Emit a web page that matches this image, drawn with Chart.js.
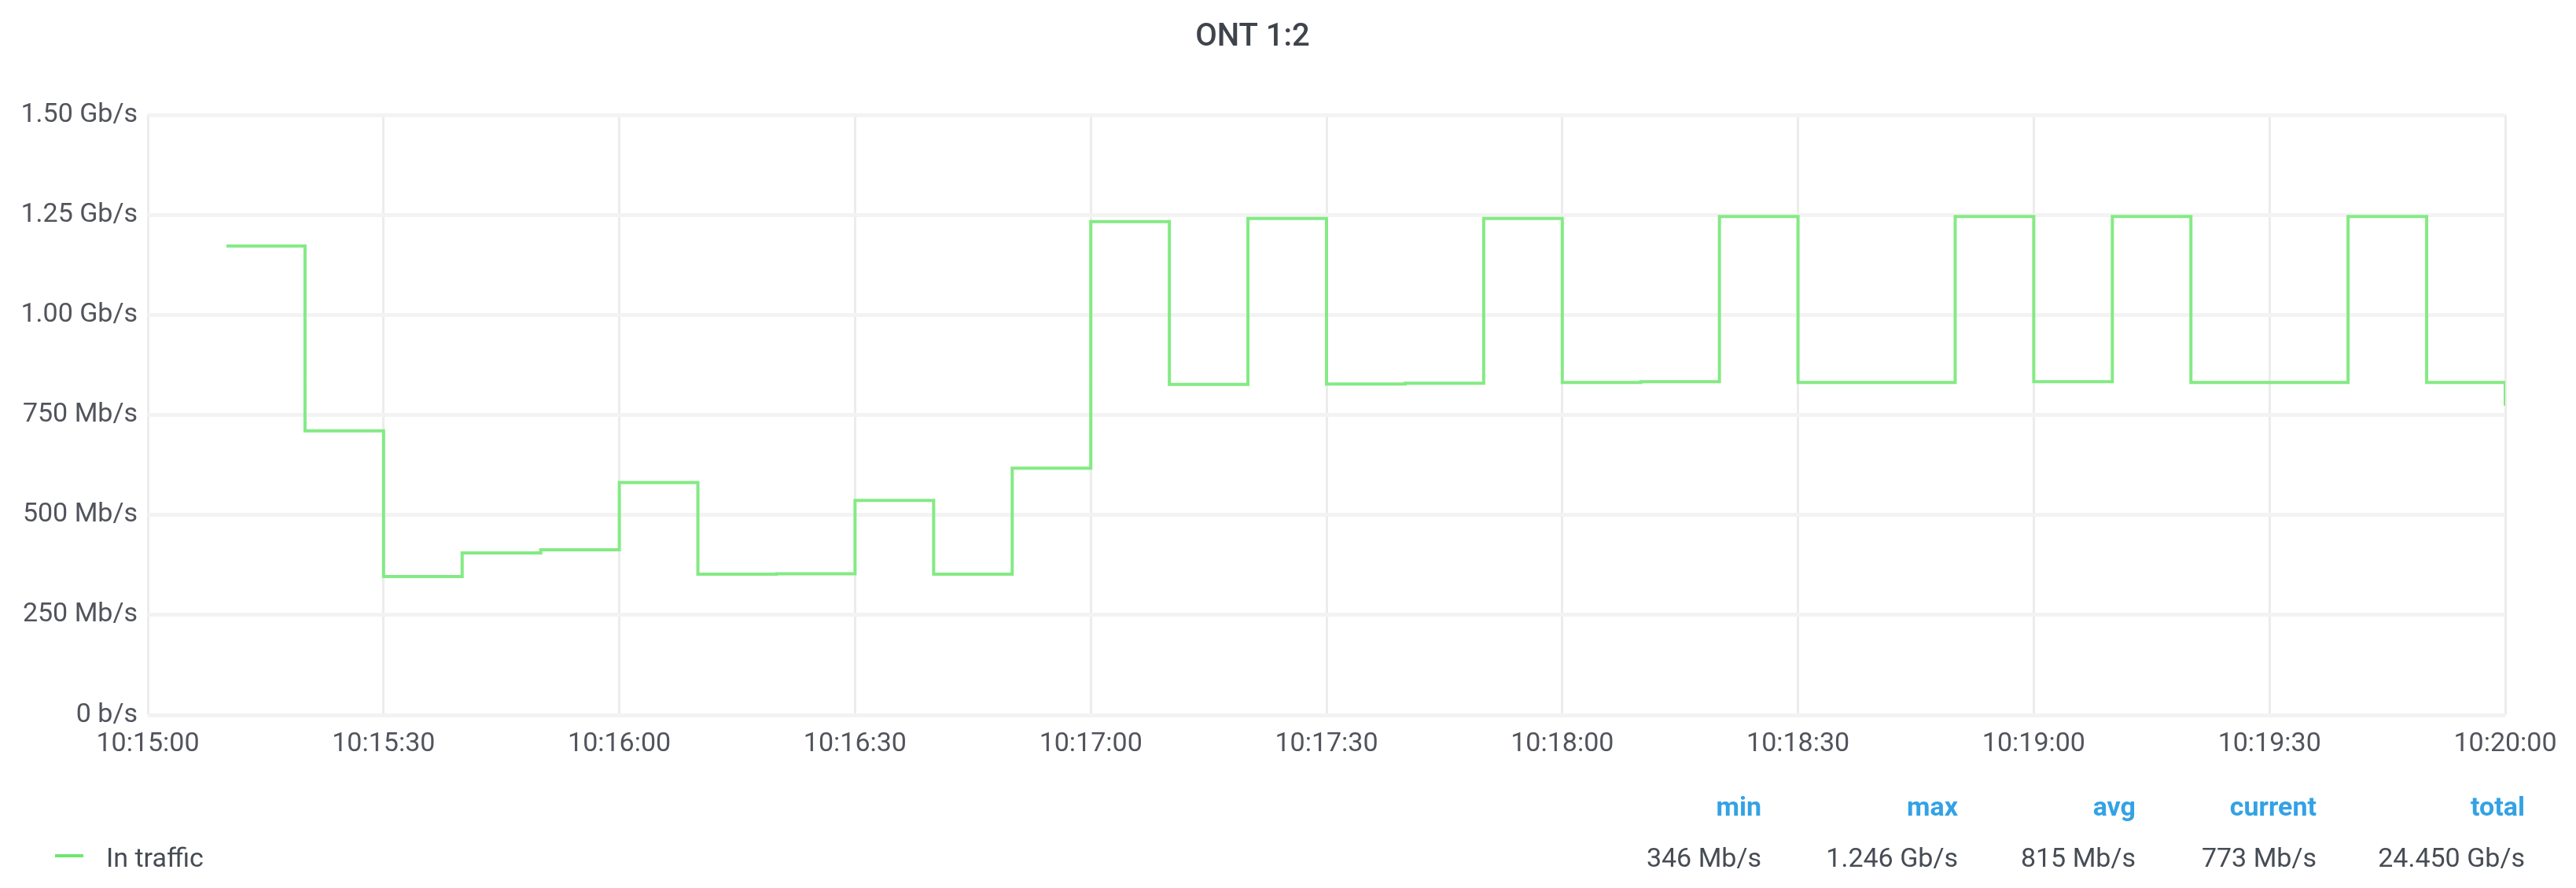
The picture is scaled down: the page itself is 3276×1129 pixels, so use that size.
<!DOCTYPE html>
<html>
<head>
<meta charset="utf-8">
<script src="https://cdn.jsdelivr.net/npm/chart.js@4/dist/chart.umd.min.js"></script>
<style>
  html, body { margin: 0; padding: 0; background: #ffffff; }
  #wrap { position: relative; width: 3276px; height: 1129px; overflow: hidden; }
  #c { position: absolute; left: 0; top: 0; }
  .lg { position: absolute; font-family: Roboto, "Noto Sans", sans-serif; font-size: 34px; white-space: nowrap; line-height: 1; }
  .hd { color: #33a2e5; font-weight: 700; text-align: right; }
  .val { color: #464c54; text-align: right; }
  .name { color: #464c54; }
  .swatch { position: absolute; height: 4px; background: #6ce86c; }
</style>
</head>
<body>
<div id="wrap">
  <canvas id="c" width="3276" height="1129"></canvas>
</div>
<script>
// ---- data ----
const title = 'ONT 1:2';
const seriesName = 'In traffic';
const times = ['10:15:10','10:15:20','10:15:30','10:15:40','10:15:50','10:16:00','10:16:10','10:16:20','10:16:30','10:16:40',
               '10:16:50','10:17:00','10:17:10','10:17:20','10:17:30','10:17:40','10:17:50','10:18:00','10:18:10','10:18:20',
               '10:18:30','10:18:40','10:18:50','10:19:00','10:19:10','10:19:20','10:19:30','10:19:40','10:19:50','10:20:00'];
const inTrafficMbps = [1172, 710, 346, 405, 413, 581, 352, 353, 536, 352,
                       617, 1233, 826, 1241, 827, 829, 1241, 831, 833, 1246,
                       831, 831, 1246, 833, 1246, 831, 831, 1246, 831, 773];
const xTickLabels = ['10:15:00','10:15:30','10:16:00','10:16:30','10:17:00','10:17:30','10:18:00','10:18:30','10:19:00','10:19:30','10:20:00'];
const yTickLabels = ['0 b/s','250 Mb/s','500 Mb/s','750 Mb/s','1.00 Gb/s','1.25 Gb/s','1.50 Gb/s'];
const statNames = ['min','max','avg','current','total'];
const statValues = ['346 Mb/s','1.246 Gb/s','815 Mb/s','773 Mb/s','24.450 Gb/s'];

// ---- helpers ----
const startTime = xTickLabels[0];
function toSec(t) { const p = t.split(':').map(Number); return p[0]*3600 + p[1]*60 + p[2]; }
const t0 = toSec(startTime);
const points = times.map((t, i) => ({ x: toSec(t) - t0, y: inTrafficMbps[i] }));
const xMax = toSec(xTickLabels[xTickLabels.length - 1]) - t0;

const FONT = 'Roboto, "Noto Sans", sans-serif';

const chart = new Chart(document.getElementById('c'), {
  type: 'line',
  data: {
    datasets: [{
      label: seriesName,
      data: points,
      borderColor: '#84ea84',
      borderWidth: 4,
      stepped: 'before',
      pointRadius: 0,
      fill: false,
      tension: 0
    }]
  },
  options: {
    responsive: false,
    animation: false,
    events: [],
    layout: { padding: { left: 0, right: 90, top: 0, bottom: 160 } },
    plugins: {
      legend: { display: false },
      tooltip: { enabled: false },
      title: {
        display: true,
        text: title,
        color: '#3f444c',
        font: { family: FONT, size: 40, weight: '500' },
        padding: { top: 24, bottom: 74 }
      }
    },
    scales: {
      x: {
        type: 'linear',
        min: 0,
        max: xMax,
        afterBuildTicks: (s) => { s.ticks = xTickLabels.map((l) => ({ value: toSec(l) - t0 })); },
        afterFit: (s) => { s.height = 60; },
        ticks: {
          autoSkip: false,
          maxRotation: 0,
          padding: 17,
          color: '#52545c',
          font: { family: FONT, size: 34 },
          callback: (v, i) => xTickLabels[i]
        },
        grid: { color: '#ececec', lineWidth: 3, drawTicks: false },
        border: { display: false }
      },
      y: {
        type: 'linear',
        min: 0,
        max: 1500,
        afterBuildTicks: (s) => { s.ticks = yTickLabels.map((l, i) => ({ value: i * 250 })); },
        afterFit: (s) => { s.width = 188; },
        ticks: {
          padding: 13,
          color: '#52545c',
          font: { family: FONT, size: 34 },
          callback: (v, i) => yTickLabels[i]
        },
        grid: { color: '#f3f3f3', lineWidth: 5, drawTicks: false },
        border: { display: false }
      }
    }
  }
});

// ---- Grafana-style legend table (HTML text) ----
const wrap = document.getElementById('wrap');
const statRight = [2240, 2490, 2716, 2946, 3211];
statNames.forEach((n, i) => {
  const h = document.createElement('div');
  h.className = 'lg hd';
  h.textContent = n;
  h.style.right = (3276 - statRight[i]) + 'px';
  h.style.top = (1025 - 17) + 'px';
  wrap.appendChild(h);
  const v = document.createElement('div');
  v.className = 'lg val';
  v.textContent = statValues[i];
  v.style.right = (3276 - statRight[i]) + 'px';
  v.style.top = (1090 - 17) + 'px';
  wrap.appendChild(v);
});
const sw = document.createElement('div');
sw.className = 'swatch';
sw.style.left = '70px'; sw.style.width = '36px'; sw.style.top = '1086px';
wrap.appendChild(sw);
const nm = document.createElement('div');
nm.className = 'lg name';
nm.textContent = seriesName;
nm.style.left = '135px';
nm.style.top = (1090 - 17) + 'px';
wrap.appendChild(nm);
</script>
</body>
</html>
